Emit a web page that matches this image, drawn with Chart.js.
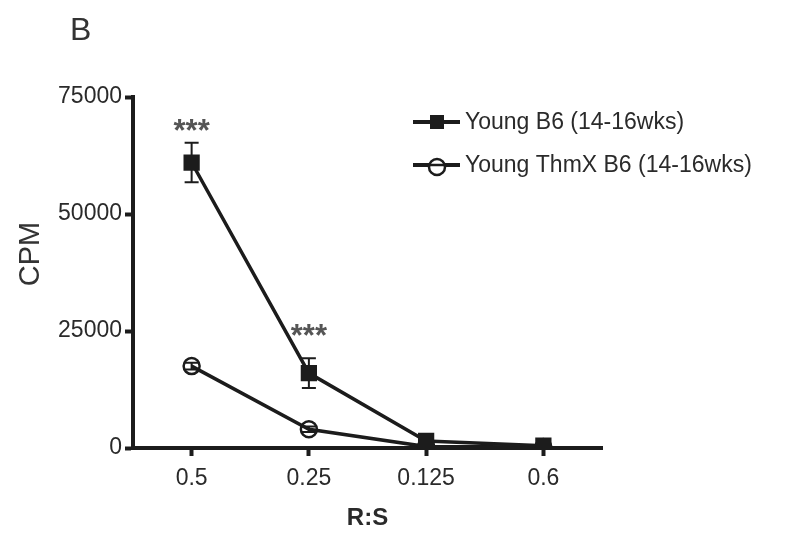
<!DOCTYPE html>
<html>
<head>
<meta charset="utf-8">
<script src="https://cdn.jsdelivr.net/npm/chart.js@4.4.1/dist/chart.umd.min.js"></script>
<style>
  html, body { margin: 0; padding: 0; background: #fff; }
  #wrap { width: 789px; height: 533px; position: relative; }
</style>
</head>
<body>
<div id="wrap"><canvas id="cpmChart" width="789" height="533"></canvas></div>
<script>
// R:S ratios on the x axis
const ratios = ["0.5", "0.25", "0.125", "0.6"];

// CPM means and error (SEM) per group
const youngB6 = [61000, 16000, 1500, 500];
const youngB6Err = [4200, 3200, 400, 300];
const thmxB6 = [17500, 4000, 300, 200];
const thmxB6Err = [700, 600, 150, 100];

// significance marks
const starIdx = [0, 1];
const starY = [68600, 24800];
const starText = "***";

const yTicks = [0, 25000, 50000, 75000];

const ink = "#1c1c1c";
const fontName = "'Liberation Sans', Arial, sans-serif";

const extras = {
  id: "extras",
  beforeDatasetsDraw(chart) {
    const ctx = chart.ctx;
    const x = chart.scales.x;
    const y = chart.scales.y;
    ctx.save();
    ctx.strokeStyle = ink;
    ctx.lineWidth = 2;
    [[youngB6, youngB6Err], [thmxB6, thmxB6Err]].forEach(([vals, errs]) => {
      vals.forEach((v, i) => {
        const px = x.getPixelForValue(i);
        const top = y.getPixelForValue(v + errs[i]);
        const bot = y.getPixelForValue(Math.max(0, v - errs[i]));
        ctx.beginPath();
        ctx.moveTo(px, top); ctx.lineTo(px, bot);
        ctx.moveTo(px - 7, top); ctx.lineTo(px + 7, top);
        ctx.moveTo(px - 7, bot); ctx.lineTo(px + 7, bot);
        ctx.stroke();
      });
    });
    ctx.restore();
  },
  afterDraw(chart) {
    const ctx = chart.ctx;
    const x = chart.scales.x;
    const y = chart.scales.y;
    ctx.save();

    // panel letter
    ctx.fillStyle = "#333";
    ctx.font = "32px " + fontName;
    ctx.textAlign = "left";
    ctx.textBaseline = "middle";
    ctx.fillText("B", 70, 31);

    // y title
    ctx.save();
    ctx.translate(31, 254);
    ctx.rotate(-Math.PI / 2);
    ctx.textAlign = "center";
    ctx.font = "29px " + fontName;
    ctx.fillStyle = "#333";
    ctx.fillText("CPM", 0, 0);
    ctx.restore();

    // stars
    ctx.fillStyle = "#555";
    ctx.font = "bold 31px " + fontName;
    ctx.textAlign = "center";
    ctx.textBaseline = "alphabetic";
    starIdx.forEach((i, k) => {
      ctx.fillText(starText, x.getPixelForValue(i), y.getPixelForValue(starY[k]) + 14);
    });

    // legend
    const rows = [
      { label: chart.data.datasets[0].label, y: 122, style: "rect" },
      { label: chart.data.datasets[1].label, y: 165, style: "circle" }
    ];
    rows.forEach(r => {
      ctx.strokeStyle = ink;
      ctx.lineWidth = 4;
      ctx.beginPath();
      ctx.moveTo(413, r.y); ctx.lineTo(460, r.y);
      ctx.stroke();
      if (r.style === "rect") {
        ctx.fillStyle = ink;
        ctx.fillRect(430, r.y - 7, 14, 14);
      } else {
        ctx.lineWidth = 2.5;
        ctx.fillStyle = "#fff";
        ctx.beginPath();
        ctx.arc(437, r.y + 2, 8, 0, Math.PI * 2);
        ctx.fill();
        ctx.stroke();
        ctx.beginPath();
        ctx.moveTo(429, r.y); ctx.lineTo(445, r.y);
        ctx.stroke();
      }
      ctx.fillStyle = "#2a2a2a";
      ctx.font = "23px " + fontName;
      ctx.textAlign = "left";
      ctx.textBaseline = "middle";
      ctx.fillText(r.label, 465, r.y + 1);
    });
    ctx.restore();
  }
};

new Chart(document.getElementById("cpmChart"), {
  type: "line",
  data: {
    labels: ratios,
    datasets: [
      {
        label: "Young B6 (14-16wks)",
        data: youngB6,
        borderColor: ink,
        borderWidth: 3.5,
        backgroundColor: ink,
        pointStyle: "rect",
        pointRadius: 11.5,
        pointBorderWidth: 0,
        tension: 0
      },
      {
        label: "Young ThmX B6 (14-16wks)",
        data: thmxB6,
        borderColor: ink,
        borderWidth: 3.5,
        backgroundColor: "rgba(0,0,0,0)",
        pointStyle: "circle",
        pointRadius: 8,
        pointBorderWidth: 2.5,
        tension: 0
      }
    ]
  },
  options: {
    responsive: false,
    animation: false,
    events: [],
    layout: { padding: { left: 0, top: 97, right: 187, bottom: 0 } },
    plugins: {
      legend: { display: false },
      tooltip: { enabled: false }
    },
    scales: {
      x: {
        type: "category",
        offset: true,
        afterFit(scale) { scale.height = 85; },
        border: { display: true, color: ink, width: 4 },
        grid: {
          display: true,
          drawOnChartArea: false,
          drawTicks: true,
          tickLength: 8,
          tickWidth: 4,
          tickColor: ink,
          offset: false
        },
        ticks: {
          color: "#2a2a2a",
          font: { family: fontName, size: 23 },
          padding: 9,
          maxRotation: 0
        },
        title: {
          display: true,
          text: "R:S",
          color: "#2a2a2a",
          font: { family: fontName, size: 24, weight: "bold" },
          padding: { top: 4, bottom: 0 }
        }
      },
      y: {
        min: 0,
        max: 75000,
        afterFit(scale) { scale.width = 133; },
        afterBuildTicks(scale) { scale.ticks = yTicks.map(v => ({ value: v })); },
        border: { display: true, color: ink, width: 4 },
        grid: {
          display: true,
          drawOnChartArea: false,
          drawTicks: true,
          tickLength: 8,
          tickWidth: 4,
          tickColor: ink
        },
        ticks: {
          color: "#2a2a2a",
          font: { family: fontName, size: 23 },
          padding: 3,
          callback: v => String(v)
        }
      }
    }
  },
  plugins: [extras]
});
</script>
</body>
</html>
